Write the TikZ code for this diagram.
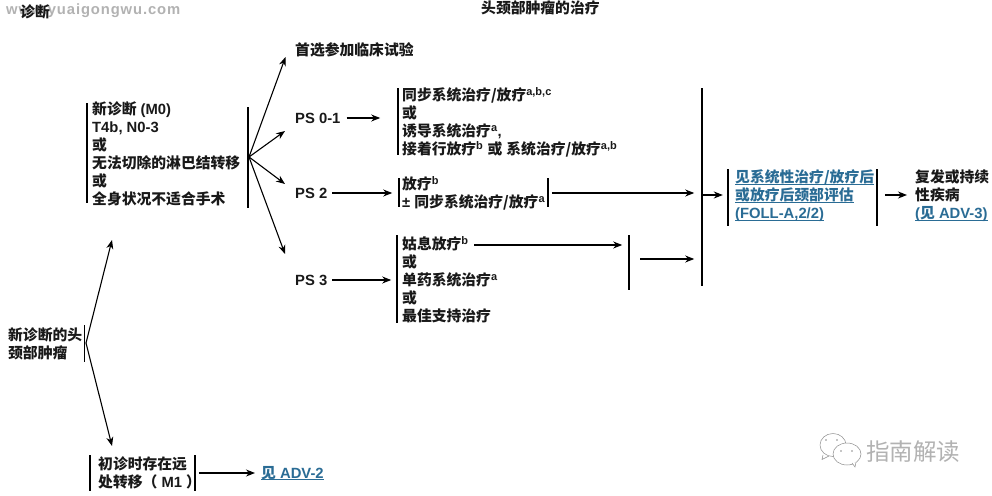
\documentclass[tikz,border=0pt]{standalone}
\usepackage{fontspec}
\usetikzlibrary{arrows.meta}
\setmainfont{Liberation Sans}
\newfontfamily\cjk{Noto Sans CJK SC}
\newfontfamily\wmfont[LetterSpace=6]{Liberation Sans}
\newcommand{\zh}[1]{{\cjk #1}}
\newcommand{\sps}[1]{\textsuperscript{\normalfont\bfseries\fontsize{11}{11}\selectfont #1}}
\newcommand{\ull}[1]{\sbox0{#1}\rlap{\rule[-1.8pt]{\wd0}{.9pt}}\usebox0}
\definecolor{linkblue}{HTML}{2A6C95}
\tikzset{
  txt/.style={anchor=west,inner sep=0pt,align=left,font=\fontsize{14.8}{18}\selectfont\bfseries,text=black!90},
  linktxt/.style={txt,text=linkblue},
  vbar/.style={fill=black,inner sep=0pt,minimum width=1.2pt,draw=none},
  arr/.style={line width=1.1pt,-{Stealth[length=9pt,width=7pt]},black},
  wm/.style={anchor=west,inner sep=0pt,text=black!30},
  chat/.style={draw=black!45,line width=.5pt,fill=white}
}
\begin{document}
\begin{tikzpicture}[x=1pt,y=-1pt]
\useasboundingbox[fill=white] (0,0) rectangle (992,495);
% watermarks
\node[wm,font=\fontsize{14.8}{14.8}\selectfont\bfseries\wmfont] (wmtop) at (6,11) {www.yuaigongwu.com};
\node[wm,font=\fontsize{23.5}{23.5}\selectfont\cjk] (wmname) at (866,452) {指南解读};
\draw[chat] (833,445) ellipse (13 and 11.5);
\draw[chat] (823,455) -- (822,459.5) -- (829,456);
\draw[chat] (847,454) ellipse (14 and 11);
\draw[chat] (852,463) -- (855,467) -- (856,462);
\fill[black!45] (826,440) circle (.9) (837,440) circle (.9) (841,451) circle (.9) (852,451) circle (.9);
% headings
\node[txt] (hdiag) at (20,12) {\zh{诊断}};
\node[txt] (htreat) at (481,8) {\zh{头颈部肿瘤的治疗}};
% left column
\node[txt] (new) at (8,344) {\zh{新诊断的头}\\\zh{颈部肿瘤}};
\node[vbar,minimum height=37pt] (bnew) at (84.5,343.5) {};
% M0 block
\node[vbar,minimum height=100pt] (m0l) at (87,153) {};
\node[txt] (m0) at (92,154) {\zh{新诊断} (M0)\\T4b, N0-3\\\zh{或}\\\zh{无法切除的淋巴结转移}\\\zh{或}\\\zh{全身状况不适合手术}};
\node[vbar,minimum height=101pt] (m0r) at (248,157.5) {};
% M1 block
\node[vbar,minimum height=36pt] (m1l) at (90,473) {};
\node[txt] (m1) at (98,473) {\zh{初诊时存在远}\\\zh{处转移（} M1 \zh{）}};
\node[vbar,minimum height=36pt] (m1r) at (195,473) {};
\node[linktxt] (adv2) at (261,473) {\ull{\zh{见} ADV-2}};
% options
\node[txt] (trial) at (295,50) {\zh{首选参加临床试验}};
\node[txt] (ps01) at (295,118) {PS 0-1};
\node[txt] (ps2) at (295,193) {PS 2};
\node[txt] (ps3) at (295,280) {PS 3};
% PS 0-1 treatment
\node[vbar,minimum height=67pt] (t1l) at (398,121.5) {};
\node[txt] (t1) at (402,122.5) {\zh{同步系统治疗/放疗}\sps{a,b,c}\\\zh{或}\\\zh{诱导系统治疗}\sps{a},\\\zh{接着行放疗}\sps{b} \zh{或} \zh{系统治疗/放疗}\sps{a,b}};
% PS 2 treatment
\node[vbar,minimum height=29pt] (t2l) at (399,192.5) {};
\node[txt] (t2) at (402,193) {\zh{放疗}\sps{b}\\± \zh{同步系统治疗/放疗}\sps{a}};
\node[vbar,minimum height=29pt] (t2r) at (548,192.5) {};
% PS 3 treatment
\node[vbar,minimum height=88pt] (t3l) at (397,279) {};
\node[txt] (t3) at (402,280) {\zh{姑息放疗}\sps{b}\\\zh{或}\\\zh{单药系统治疗}\sps{a}\\\zh{或}\\\zh{最佳支持治疗}};
\node[vbar,minimum height=55pt] (t3r) at (629,262.5) {};
\coordinate (t3first) at (474,245);
\coordinate (t3out) at (640,259);
\node[vbar,minimum height=198pt] (big) at (702,187) {};
% follow-up
\node[vbar,minimum height=57pt] (fl) at (728,197.5) {};
\node[linktxt] (foll) at (735,196) {\ull{\zh{见系统性治疗/放疗后}}\\\ull{\zh{或放疗后颈部评估}}\\\ull{(FOLL-A,2/2)}};
\node[vbar,minimum height=57pt] (fr) at (877,197.5) {};
\node[txt] (rec) at (915,196) {\zh{复发或持续}\\\zh{性疾病}\\\textcolor{linkblue}{\ull{(\zh{见} ADV-3)}}};
% free ends of connectors
\coordinate (fan1) at (86,343);
\coordinate (m0in) at (112,240);
\coordinate (m1in) at (112,446);
\coordinate (fan2) at (249,157);
\coordinate (trialin) at (285.5,57);
\coordinate (ps01in) at (285,131);
\coordinate (ps2in) at (285,184);
\coordinate (ps3in) at (285,254);
% connectors
\draw[arr] (fan1) -- (m0in);
\draw[arr] (fan1) -- (m1in);
\draw[arr,shorten <=3pt,shorten >=6pt] (m1r.east) -- (adv2.west);
\draw[arr] (fan2) -- (trialin);
\draw[arr] (fan2) -- (ps01in);
\draw[arr] (fan2) -- (ps2in);
\draw[arr] (fan2) -- (ps3in);
\draw[arr,shorten <=6pt,shorten >=17pt] (ps01.east) -- (t1l.west |- ps01.east);
\draw[arr,shorten <=5pt,shorten >=6pt] (ps2.east) -- (t2l.west |- ps2.east);
\draw[arr,shorten <=5pt,shorten >=5pt] (ps3.east) -- (t3l.west |- ps3.east);
\draw[arr,shorten <=3pt,shorten >=7pt] (t2r.east |- ps2.east) -- (big.west |- ps2.east);
\draw[arr,shorten >=6pt] (t3first) -- (t3r.west |- t3first);
\draw[arr,shorten >=7pt] (t3out) -- (big.west |- t3out);
\draw[arr,shorten >=3pt] (big.east |- fl.center) ++(0,-2.5) -- ++(23,0);
\draw[arr,shorten <=7pt,shorten >=8pt] (fr.east |- 0,195) -- (rec.west |- 0,195);
\end{tikzpicture}
\end{document}
